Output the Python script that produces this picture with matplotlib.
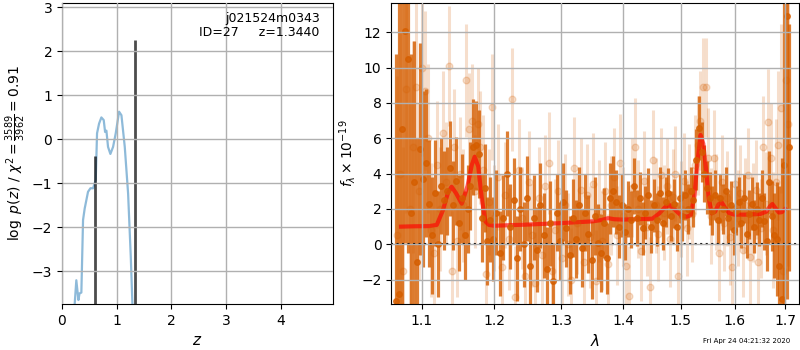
import matplotlib
matplotlib.use("Agg")
import matplotlib.pyplot as plt
import matplotlib.ticker as mticker
import numpy as np

# ---------------- left panel: p(z) ----------------
pz_z = [0.232, 0.262, 0.300, 0.320, 0.354, 0.385, 0.415, 0.476, 0.520, 0.568,
        0.617, 0.641, 0.678, 0.720, 0.763, 0.788, 0.812, 0.842, 0.885, 0.934,
        0.983, 1.044, 1.087, 1.148, 1.209, 1.258, 1.288]
pz_logp = [-3.74, -3.20, -3.65, -3.50, -3.48, -1.83, -1.57, -1.19, -1.11, -1.11,
           -0.92, 0.14, 0.36, 0.50, 0.44, 0.17, 0.20, -0.17, -0.33, -0.17,
           0.14, 0.63, 0.55, -0.17, -1.23, -2.67, -3.74]
zpeaks = [0.604, 1.344]
zpeak_top = [-0.38, 2.26]
z_xlim = (0, 4.96)
z_ylim = (-3.74, 3.1)
label_obj = "j021524m0343"
label_id = "ID=27     z=1.3440"
chi2_label = r"$\log\ p(z)$ / $\chi^2=\frac{3589}{3962}=0.91$"

# ---------------- right panel: spectrum ----------------
wave_dark = [1.066, 1.070, 1.074, 1.078, 1.082, 1.086, 1.090, 1.094, 1.098, 1.102,
             1.106, 1.110, 1.114, 1.118, 1.122, 1.126, 1.130, 1.134, 1.138, 1.142,
             1.146, 1.150, 1.154, 1.158, 1.162, 1.166, 1.170, 1.174, 1.178, 1.182,
             1.186, 1.190, 1.194, 1.198, 1.203, 1.208, 1.213, 1.218, 1.223, 1.228,
             1.233, 1.238, 1.243, 1.248, 1.253, 1.258, 1.263, 1.268, 1.273, 1.278,
             1.283, 1.288, 1.293, 1.298, 1.303, 1.308, 1.313, 1.318, 1.323, 1.328,
             1.333, 1.338, 1.343, 1.348, 1.353, 1.358, 1.363, 1.368, 1.373, 1.378,
             1.383, 1.388, 1.393, 1.398, 1.403, 1.408, 1.413, 1.418, 1.423, 1.428,
             1.433, 1.438, 1.443, 1.448, 1.453, 1.458, 1.463, 1.468, 1.473, 1.478,
             1.483, 1.488, 1.493, 1.498, 1.503, 1.508, 1.513, 1.518, 1.523, 1.528,
             1.533, 1.538, 1.543, 1.548, 1.553, 1.558, 1.563, 1.568, 1.573, 1.578,
             1.583, 1.588, 1.593, 1.598, 1.603, 1.608, 1.613, 1.618, 1.623, 1.628,
             1.633, 1.638, 1.643, 1.648, 1.653, 1.658, 1.663, 1.668, 1.673, 1.678,
             1.683, 1.688, 1.693, 1.698, 1.703, 1.708]
flux_dark = [-3.2, -2.8, 6.5, 12.1, 10.5, 1.8, 3.5, -1.0, 5.4, 3.7,
             4.6, 2.3, 0.5, 2.9, 0.0, 3.3, 2.5, 3.0, 4.3, 2.2,
             3.6, 1.2, 2.6, 0.5, 2.0, 3.3, 5.5, 5.6, 5.1, 1.5,
             3.2, 0.2, 1.4, 0.3, 1.8, -0.5, 1.5, 4.0, 1.0, 2.5,
             -0.8, 2.0, 0.0, 2.6, -1.2, 1.5, -0.3, 2.2, 0.5, -1.4,
             1.2, -2.1, 1.8, 0.2, 2.4, 0.9, -0.6, 1.5, 0.3, 2.2,
             -0.2, 1.8, 0.6, -0.9, 1.6, 0.1, -0.5, 1.2, -0.8, 2.6,
             3.0, 2.4, 1.0, 2.2, 0.7, 2.0, 1.4, 3.3, 1.5, 2.6,
             0.9, 1.8, 2.8, 1.0, 2.2, 1.4, 2.9, 1.2, 2.4, 2.9,
             1.6, 2.3, 1.0, 2.6, 1.6, 2.8, 2.0, 3.0, 2.5, 4.8,
             6.6, 5.2, 4.0, 3.2, 2.6, 1.9, 2.8, 1.4, 2.6, 2.0,
             3.0, 1.5, 2.2, 0.8, 1.9, 2.4, 1.2, 2.6, 0.6, 1.7,
             2.3, 1.0, 2.0, 1.4, 2.6, 1.3, 0.2, 3.5, 1.6, 0.5,
             0.3, -1.2, -3.1, 4.5, 12.9, 5.5]
err_dark = [14, 17, 12, 12, 11, 9, 8, 7, 6, 5,
            4.2, 3.6, 3.3, 3.0, 3.0, 2.7, 2.8, 2.5, 2.7, 2.5,
            2.5, 2.7, 2.5, 2.5, 2.5, 2.5, 2.7, 2.5, 2.5, 2.5,
            2.5, 2.5, 2.4, 2.4, 2.4, 2.4, 2.4, 2.4, 2.4, 2.4,
            2.4, 2.4, 2.4, 2.4, 2.4, 2.4, 2.4, 2.4, 2.4, 2.4,
            2.4, 2.2, 2.2, 2.2, 2.2, 2.2, 2.2, 2.2, 2.2, 2.2,
            2.2, 2.2, 2.2, 2.2, 2.2, 2.2, 2.2, 2.0, 2.0, 2.0,
            2.0, 1.8, 1.8, 1.8, 1.6, 1.6, 1.6, 1.6, 1.6, 1.5,
            1.5, 1.5, 1.5, 1.5, 1.5, 1.5, 1.5, 1.5, 1.4, 1.4,
            1.4, 1.4, 1.4, 1.4, 1.4, 1.4, 1.4, 1.4, 1.5, 1.7,
            1.8, 1.7, 1.6, 1.5, 1.5, 1.4, 1.4, 1.4, 1.4, 1.4,
            1.4, 1.4, 1.4, 1.4, 1.4, 1.4, 1.4, 1.4, 1.4, 1.4,
            1.5, 1.5, 1.5, 1.5, 1.6, 1.6, 1.7, 1.8, 2.0, 2.4,
            3.2, 4.5, 8, 12, 16, 7]

wave_light = [1.068, 1.072, 1.076, 1.080, 1.084, 1.088, 1.092, 1.096, 1.100, 1.104,
              1.108, 1.112, 1.116, 1.120, 1.124, 1.128, 1.132, 1.136, 1.140, 1.144,
              1.148, 1.152, 1.156, 1.160, 1.164, 1.168, 1.172, 1.176, 1.180, 1.184,
              1.188, 1.192, 1.196, 1.200, 1.2055, 1.2105, 1.2155, 1.2205, 1.2255, 1.2305,
              1.2355, 1.2405, 1.2455, 1.2505, 1.2555, 1.2605, 1.2655, 1.2705, 1.2755, 1.2805,
              1.2855, 1.2905, 1.2955, 1.3005, 1.3055, 1.3105, 1.3155, 1.3205, 1.3255, 1.3305,
              1.3355, 1.3405, 1.3455, 1.3505, 1.3555, 1.3605, 1.3655, 1.3705, 1.3755, 1.3805,
              1.3855, 1.3905, 1.3955, 1.4005, 1.4055, 1.4105, 1.4155, 1.4205, 1.4255, 1.4305,
              1.4355, 1.4405, 1.4455, 1.4505, 1.4555, 1.4605, 1.4655, 1.4705, 1.4755, 1.4805,
              1.4855, 1.4905, 1.4955, 1.5005, 1.5055, 1.5105, 1.5155, 1.5205, 1.5255, 1.5305,
              1.5355, 1.5405, 1.5455, 1.5505, 1.5555, 1.5605, 1.5655, 1.5705, 1.5755, 1.5805,
              1.5855, 1.5905, 1.5955, 1.6005, 1.6055, 1.6105, 1.6155, 1.6205, 1.6255, 1.6305,
              1.6355, 1.6405, 1.6455, 1.6505, 1.6555, 1.6605, 1.6655, 1.6705, 1.6755, 1.6805,
              1.6855, 1.6905, 1.6955, 1.7005, 1.7055]
flux_light = [0.5, 4.0, -1.5, 8.8, 2.0, 5.5, 8.9, 3.0, 10.0, 8.7,
              6.0, 0.8, -0.5, 4.5, 2.0, 6.3, 3.5, 10.1, -1.5, 5.5,
              0.2, 4.0, 2.2, 9.3, 6.5, 7.0, 3.0, 6.8, 5.5, 4.2,
              -1.7, 2.4, 7.8, 1.5, 3.8, -1.3, 2.8, 0.3, 8.2, -3.0,
              4.2, 1.5, -1.8, 3.5, 0.5, -2.2, 2.6, -0.6, 3.3, 4.6,
              -1.5, 0.8, 3.0, -0.8, 2.2, 0.0, -2.0, 4.3, 1.2, 3.1,
              -1.0, 2.8, 0.4, 3.4, -2.1, 1.9, 0.2, 3.0, -1.1, 2.2,
              3.8, 0.5, 4.6, 1.6, -1.2, -2.9, 3.2, 5.5, 2.0, -0.4,
              3.6, 1.0, -2.4, 4.8, 2.2, 0.6, 3.9, 1.8, 3.3, 0.3,
              2.7, 4.0, -1.8, 2.0, 3.6, 0.9, 3.0, 1.7, 4.5, 5.6,
              7.0, 8.9, 8.9, 4.9, 1.6, 4.9, 2.4, -0.5, 3.5, 1.2,
              2.6, 0.4, -1.3, 3.4, 1.5, 2.9, -0.3, 2.2, 3.9, -0.7,
              1.8, 3.1, -1.0, 0.9, 5.5, 2.3, 6.9, 4.9, 0.8, 3.5,
              5.6, 7.7, -1.5, 9.3, 6.8]
err_light = [9, 8, 7, 7, 6, 6, 5.5, 5, 5, 4.5,
             4.2, 3.8, 3.6, 3.6, 3.5, 3.5, 3.4, 3.4, 3.4, 3.3,
             3.2, 3.2, 3.2, 3.2, 3.2, 3.2, 3.2, 3.2, 3.2, 3.1,
             3.1, 3.0, 3.0, 3.0, 3.0, 3.0, 3.0, 2.9, 2.9, 2.9,
             2.9, 2.9, 2.9, 2.9, 2.9, 2.9, 2.9, 2.9, 2.9, 2.9,
             2.9, 2.9, 2.9, 2.9, 2.9, 2.9, 2.9, 2.9, 2.9, 2.9,
             2.9, 2.9, 2.9, 2.9, 2.9, 2.9, 2.8, 2.8, 2.8, 2.8,
             2.8, 2.8, 2.8, 2.8, 2.8, 2.8, 2.8, 2.8, 2.8, 2.8,
             2.8, 2.8, 2.8, 2.8, 2.7, 2.7, 2.7, 2.7, 2.7, 2.7,
             2.7, 2.7, 2.7, 2.7, 2.7, 2.7, 2.7, 2.7, 2.8, 2.8,
             2.8, 2.8, 2.8, 2.8, 2.7, 2.7, 2.7, 2.7, 2.7, 2.7,
             2.7, 2.7, 2.7, 2.7, 2.7, 2.7, 2.7, 2.7, 2.7, 2.7,
             2.8, 2.8, 2.8, 2.8, 2.9, 2.9, 3.0, 3.1, 3.3, 3.6,
             4.2, 4.8, 6, 7, 8]

model_wave = [1.073, 1.090, 1.110, 1.120, 1.128, 1.135, 1.140, 1.146, 1.154, 1.162,
              1.168, 1.172, 1.177, 1.182, 1.187, 1.192, 1.200, 1.250, 1.300, 1.350,
              1.365, 1.375, 1.385, 1.400, 1.450, 1.462, 1.472, 1.480, 1.490, 1.500,
              1.511, 1.518, 1.525, 1.530, 1.536, 1.541, 1.546, 1.551, 1.557, 1.563,
              1.569, 1.575, 1.582, 1.590, 1.600, 1.620, 1.650, 1.662, 1.669, 1.674,
              1.680, 1.687, 1.693, 1.700]
model_flux = [1.00, 1.02, 1.03, 1.10, 1.90, 2.90, 3.26, 2.90, 2.30, 3.30,
              4.50, 4.96, 4.40, 2.60, 1.30, 1.10, 1.05, 1.12, 1.20, 1.30,
              1.38, 1.48, 1.42, 1.40, 1.45, 1.75, 2.10, 2.22, 1.95, 1.65,
              1.56, 1.65, 2.80, 4.60, 6.19, 5.70, 4.30, 2.60, 1.75, 1.85,
              2.25, 2.40, 2.05, 1.75, 1.68, 1.68, 1.72, 1.85, 2.15, 2.28,
              2.05, 1.80, 1.82, 2.00]

lam_xlim = (1.0605, 1.7286)
lam_ylim = (-3.38, 13.66)
lam_ticks = [1.1, 1.2, 1.3, 1.4, 1.5, 1.6, 1.7]
flux_ylabel = r"$f_\lambda\times10^{-19}$"
timestamp = "Fri Apr 24 04:21:32 2020"

grism_color = (0.8352941176470589, 0.3686274509803922, 0.0)

fig = plt.figure(figsize=(8, 3.5), dpi=100)
ax1 = fig.add_axes([0.0775, 0.1314, 0.339, 0.86])
ax2 = fig.add_axes([0.489, 0.1314, 0.510, 0.86])

# left
ax1.plot(pz_z, pz_logp, color='#1f77b4', alpha=0.5, lw=1.6)
ax1.vlines(zpeaks, z_ylim[0], zpeak_top, color='k', alpha=0.7, lw=2)
ax1.set_xlim(*z_xlim)
ax1.set_ylim(*z_ylim)
ax1.set_xticks([0, 1, 2, 3, 4])
ax1.set_yticks([-3, -2, -1, 0, 1, 2, 3])
ax1.grid(True, color='#b0b0b0', lw=1)
ax1.set_axisbelow(False)
ax1.set_xlabel('$z$', fontsize=11)
ax1.set_ylabel(chi2_label, fontsize=10, labelpad=3)
ax1.text(0.95, 0.97, label_obj + "\n" + label_id, transform=ax1.transAxes,
         ha='right', va='top', fontsize=9, linespacing=1.1)

# right
ax2.set_xscale('log')
ax2.errorbar(wave_light, flux_light, yerr=err_light, color=grism_color, alpha=0.2,
             marker='o', ms=4.8, linestyle='none', elinewidth=2.2)
ax2.errorbar(wave_dark, flux_dark, yerr=err_dark, color=grism_color, alpha=0.8,
             marker='o', ms=4.0, linestyle='none', elinewidth=2.3)
ax2.plot(model_wave, model_flux, color='r', alpha=0.65, lw=3)
ax2.plot(lam_xlim, [0, 0], color='k', linestyle=':', lw=1.5)
ax2.set_xlim(*lam_xlim)
ax2.set_ylim(*lam_ylim)
ax2.xaxis.set_major_locator(mticker.FixedLocator(lam_ticks))
ax2.xaxis.set_major_formatter(mticker.FixedFormatter([f"{t:.1f}" for t in lam_ticks]))
ax2.xaxis.set_minor_locator(mticker.NullLocator())
ax2.set_yticks([-2, 0, 2, 4, 6, 8, 10, 12])
ax2.grid(True, color='#b0b0b0', lw=1)
ax2.set_axisbelow(False)
ax2.set_xlabel(r'$\lambda$', fontsize=11)
ax2.set_ylabel(flux_ylabel, fontsize=10, labelpad=2)

fig.text(0.933, 0.027, timestamp, ha='center', va='center', fontsize=5)

fig.savefig('out.png', dpi=100)
